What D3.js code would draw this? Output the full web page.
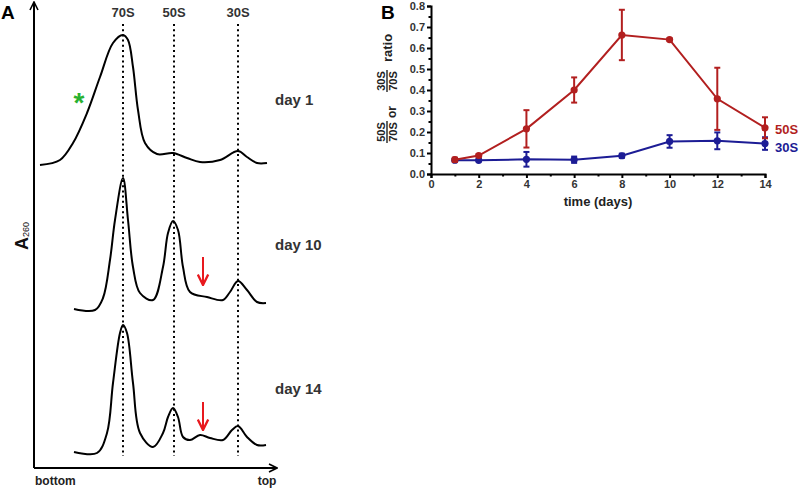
<!DOCTYPE html>
<html>
<head>
<meta charset="utf-8">
<script src="https://cdn.jsdelivr.net/npm/d3@7"></script>
<style>
  body { margin: 0; background: #fff; }
  svg { display: block; font-family: "Liberation Sans", Arial, sans-serif; font-weight: bold; }
</style>
</head>
<body>
<div id="fig"></div>
<script>
// --- panel A: sucrose gradient profiles (position from bottom, A260 arbitrary units)
var peakNames = ["70S", "50S", "30S"];
var peakPos = [89, 140, 204];
var dayLabels = ["day 1", "day 10", "day 14"];

var day1Pos = [6, 26, 39, 53, 66, 79, 89, 94, 99, 104, 111, 123, 139, 153, 166, 186, 204, 213, 223, 233];
var day1Abs = [0, 5, 22, 52, 88, 122, 130, 125, 98, 55, 22, 11, 12, 7, 3, 5, 14, 8, 2, 2];
var day10Pos = [40, 61, 69, 76, 81, 89, 94, 99, 106, 119, 129, 134, 139, 144, 149, 156, 173, 189, 196, 204, 213, 223, 232];
var day10Abs = [1, 0, 12, 50, 90, 132, 90, 43, 17, 10, 43, 77, 89, 80, 43, 18, 13, 10, 18, 29, 20, 8, 7];
var day14Pos = [40, 63, 73, 79, 86, 89, 93, 99, 106, 119, 129, 134, 139, 144, 149, 156, 166, 176, 189, 198, 204, 213, 223, 232];
var day14Abs = [2, 1, 21, 71, 121, 129, 121, 71, 21, 7, 21, 37, 46, 37, 17, 14, 19, 16, 14, 24, 28, 17, 9, 9];

// --- panel B: ratios over time
var days = [1, 2, 4, 6, 8, 10, 12, 14];
var ratio50 = [0.068, 0.088, 0.215, 0.400, 0.662, 0.640, 0.358, 0.220];
var err50 = [0.010, 0.006, 0.089, 0.060, 0.120, 0.006, 0.148, 0.050];
var ratio30 = [0.066, 0.065, 0.070, 0.068, 0.087, 0.155, 0.158, 0.145];
var err30 = [0.006, 0.005, 0.035, 0.015, 0.010, 0.030, 0.040, 0.030];
var yTicks = [0, 0.1, 0.2, 0.3, 0.4, 0.5, 0.6, 0.7, 0.8];
var xTicks = [0, 2, 4, 6, 8, 10, 12, 14];

var red = "#b21f1f", blue = "#1c1c95";

var svg = d3.select("#fig").append("svg")
  .attr("width", 800).attr("height", 488);

var defs = svg.append("defs");
defs.append("marker").attr("id", "ax").attr("viewBox", "0 0 10 10")
  .attr("refX", 9).attr("refY", 5).attr("markerWidth", 10).attr("markerHeight", 10)
  .attr("markerUnits", "userSpaceOnUse").attr("orient", "auto")
  .append("path").attr("d", "M1,1L9,5L1,9").attr("fill", "none")
  .attr("stroke", "#000").attr("stroke-width", 1.6);
defs.append("marker").attr("id", "ra").attr("viewBox", "0 0 10 10")
  .attr("refX", 9).attr("refY", 5).attr("markerWidth", 13).attr("markerHeight", 13)
  .attr("markerUnits", "userSpaceOnUse").attr("orient", "auto")
  .append("path").attr("d", "M1,1L9,5L1,9").attr("fill", "none")
  .attr("stroke", "#e8191e").attr("stroke-width", 1.8);

// ================= Panel A =================
var gA = svg.append("g");
var xA = d3.scaleLinear().domain([0, 243]).range([34, 277]);
var yA = d3.scaleLinear().domain([0, 1]).range([0, -1]);
var baselines = [165, 310, 454];

gA.append("text").attr("x", 1).attr("y", 19).attr("font-size", 19).text("A");

// axes arrows
gA.append("line").attr("x1", xA(0)).attr("y1", 468).attr("x2", xA(0)).attr("y2", 2)
  .attr("stroke", "#000").attr("stroke-width", 2).attr("marker-end", "url(#ax)");
gA.append("line").attr("x1", xA(0)).attr("y1", 468).attr("x2", xA(243)).attr("y2", 468)
  .attr("stroke", "#000").attr("stroke-width", 2).attr("marker-end", "url(#ax)");

gA.append("text").attr("x", 35).attr("y", 485).attr("font-size", 12).attr("fill", "#222").text("bottom");
gA.append("text").attr("x", 267).attr("y", 485).attr("font-size", 12).attr("fill", "#222")
  .attr("text-anchor", "middle").text("top");

var a260 = gA.append("text").attr("transform", "translate(28,250)rotate(-90)")
  .attr("font-size", 18).attr("fill", "#111");
a260.append("tspan").text("A");
a260.append("tspan").attr("font-size", 9).attr("dy", 1).attr("font-weight", "normal").text("260");

// dotted markers for particle peaks
peakNames.forEach(function(n, i) {
  gA.append("line").attr("x1", xA(peakPos[i])).attr("x2", xA(peakPos[i]))
    .attr("y1", 24).attr("y2", 456)
    .attr("stroke", "#000").attr("stroke-width", 2).attr("stroke-dasharray", "2,3.2");
  gA.append("text").attr("x", xA(peakPos[i])).attr("y", 17).attr("text-anchor", "middle")
    .attr("font-size", 13).attr("fill", "#333").text(n);
});

var traces = [[day1Pos, day1Abs], [day10Pos, day10Abs], [day14Pos, day14Abs]];
traces.forEach(function(t, k) {
  var pts = t[0].map(function(p, i) { return [p, t[1][i]]; });
  var line = d3.line()
    .x(function(d) { return xA(d[0]); })
    .y(function(d) { return baselines[k] + yA(d[1]); })
    .curve(d3.curveCatmullRom.alpha(0.5));
  gA.append("path").attr("d", line(pts)).attr("fill", "none")
    .attr("stroke", "#000").attr("stroke-width", 2);
  gA.append("text").attr("x", 275).attr("y", baselines[k] - 60).attr("font-size", 15)
    .attr("fill", "#333").text(dayLabels[k]);
});

// green asterisk on the day 1 shoulder
gA.append("text").attr("x", 79).attr("y", 112).attr("text-anchor", "middle")
  .attr("font-size", 28).attr("fill", "#29b12f").text("*");

// red arrows pointing at the intermediate material
[1, 2].forEach(function(k) {
  var ax = xA(169);
  var top = baselines[k] + yA(k == 1 ? 53 : 52);
  gA.append("line").attr("x1", ax).attr("x2", ax).attr("y1", top).attr("y2", top + 28)
    .attr("stroke", "#e8191e").attr("stroke-width", 2).attr("marker-end", "url(#ra)");
});

// ================= Panel B =================
var gB = svg.append("g");
var x = d3.scaleLinear().domain([0, 14]).range([431, 765]);
var y = d3.scaleLinear().domain([0, 0.8]).range([174, 6]);

gB.append("text").attr("x", 381).attr("y", 19).attr("font-size", 19).text("B");

gB.append("g").attr("transform", "translate(" + x(0) + ",0)")
  .call(d3.axisLeft(y).tickValues(yTicks).tickFormat(d3.format(".1f")).tickSize(4).tickPadding(2));
gB.append("g").attr("transform", "translate(" + x(0) + ",0)")
  .call(d3.axisLeft(y).tickValues(d3.range(0.05, 0.8, 0.1)).tickFormat("").tickSize(2.5))
  .select(".domain").remove();
gB.append("g").attr("transform", "translate(0," + y(0) + ")")
  .call(d3.axisBottom(x).tickValues(xTicks).tickSize(4).tickPadding(2));
gB.append("g").attr("transform", "translate(0," + y(0) + ")")
  .call(d3.axisBottom(x).tickValues(d3.range(1, 14, 2)).tickFormat("").tickSize(2.5))
  .select(".domain").remove();
gB.selectAll(".domain, .tick line").attr("stroke", "#000").attr("stroke-width", 2);
gB.selectAll(".tick text").attr("font-size", 11).attr("font-weight", "bold")
  .attr("font-family", "Liberation Sans, Arial, sans-serif").attr("fill", "#333");

gB.append("text").attr("x", (x(0) + x(14)) / 2).attr("y", 206).attr("text-anchor", "middle")
  .attr("font-size", 13).attr("fill", "#222").text("time (days)");

// y label: fraction 50S/70S or 30S/70S ratio
var yl = gB.append("g").attr("transform", "translate(387,0)rotate(-90)");
function frac(cy, num) {
  yl.append("text").attr("x", -cy).attr("y", -2).attr("text-anchor", "middle")
    .attr("font-size", 11).attr("fill", "#222").text(num);
  yl.append("line").attr("x1", -cy - 11).attr("x2", -cy + 11).attr("y1", 0).attr("y2", 0)
    .attr("stroke", "#222").attr("stroke-width", 1.4);
  yl.append("text").attr("x", -cy).attr("y", 10).attr("text-anchor", "middle")
    .attr("font-size", 11).attr("fill", "#222").text("70S");
}
frac(132, "50S");
yl.append("text").attr("x", -112).attr("y", 9).attr("text-anchor", "middle")
  .attr("font-size", 12).attr("fill", "#222").text("or");
frac(81, "30S");
yl.append("text").attr("x", -48).attr("y", 5).attr("text-anchor", "middle")
  .attr("font-size", 13).attr("fill", "#222").text("ratio");

function series(vals, errs, col, label, ly) {
  var g = gB.append("g");
  var pts = days.map(function(d, i) { return {d: d, v: vals[i], e: errs[i]}; });
  g.append("path").attr("d", d3.line().x(function(p) { return x(p.d); }).y(function(p) { return y(p.v); })(pts))
    .attr("fill", "none").attr("stroke", col).attr("stroke-width", 2);
  pts.forEach(function(p) {
    g.append("line").attr("x1", x(p.d)).attr("x2", x(p.d)).attr("y1", y(p.v - p.e)).attr("y2", y(p.v + p.e))
      .attr("stroke", col).attr("stroke-width", 2);
    [p.v - p.e, p.v + p.e].forEach(function(v) {
      g.append("line").attr("x1", x(p.d) - 3).attr("x2", x(p.d) + 3).attr("y1", y(v)).attr("y2", y(v))
        .attr("stroke", col).attr("stroke-width", 2);
    });
    g.append("circle").attr("cx", x(p.d)).attr("cy", y(p.v)).attr("r", 3.6).attr("fill", col);
  });
  g.append("text").attr("x", 775).attr("y", ly).attr("font-size", 13).attr("fill", col).text(label);
}
series(ratio30, err30, blue, "30S", 152);
series(ratio50, err50, red, "50S", 134);
</script>
</body>
</html>
